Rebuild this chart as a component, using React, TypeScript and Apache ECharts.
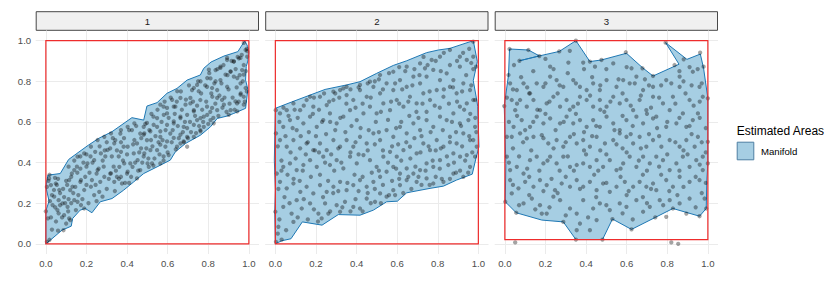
import React, { useEffect, useRef } from "react";
import * as echarts from "echarts";

const TICKS = [0, 0.2, 0.4, 0.6, 0.8, 1.0];
const PANEL_LABELS = ["1", "2", "3"];
const LEGEND_TITLE = "Estimated Areas";
const LEGEND_LABEL = "Manifold";

// red reference rectangles [x0, y0, x1, y1]
const RECT1 = [0, 0, 1, 1];
const RECT2 = [0, 0, 1, 1];
const RECT3 = [0, 0.021, 1, 1];

const HULL1: number[][] = [
  [0, 0], [0, 0.163], [0.016, 0.21], [0, 0.28], [0.01, 0.338], [0.071, 0.346], [0.112, 0.415], [0.153, 0.445],
  [0.21, 0.486], [0.26, 0.519], [0.326, 0.552], [0.424, 0.621], [0.482, 0.609], [0.498, 0.678], [0.548, 0.695],
  [0.597, 0.741], [0.646, 0.765], [0.696, 0.806], [0.761, 0.831], [0.778, 0.864], [0.814, 0.895], [0.877, 0.924],
  [0.946, 0.946], [0.98, 1.0], [0.995, 0.97], [1.0, 0.94], [0.995, 0.9], [0.987, 0.872], [0.984, 0.806],
  [0.995, 0.76], [0.984, 0.667], [0.926, 0.642], [0.893, 0.629], [0.844, 0.617], [0.811, 0.576], [0.762, 0.535],
  [0.688, 0.494], [0.638, 0.453], [0.613, 0.412], [0.548, 0.379], [0.482, 0.346], [0.433, 0.305], [0.383, 0.264],
  [0.326, 0.223], [0.268, 0.207], [0.227, 0.153], [0.194, 0.174], [0.169, 0.166], [0.132, 0.125], [0.125, 0.087],
  [0.079, 0.067], [0.03, 0.025],
];

const HULL2: number[][] = [
  [0, 0], [0.031, 0.015], [0.077, 0.025], [0.133, 0.108], [0.23, 0.092], [0.31, 0.144], [0.417, 0.141],
  [0.483, 0.166], [0.548, 0.207], [0.601, 0.21], [0.647, 0.251], [0.672, 0.256], [0.762, 0.273], [0.828, 0.284],
  [0.893, 0.314], [0.97, 0.343], [0.988, 0.42], [1.003, 0.478], [0.997, 0.675], [0.992, 0.708], [0.975, 0.803],
  [0.995, 0.897], [0.975, 1.0], [0.86, 0.962], [0.803, 0.954], [0.745, 0.941], [0.647, 0.901], [0.581, 0.878],
  [0.499, 0.839], [0.417, 0.798], [0.351, 0.782], [0.245, 0.76], [0.08, 0.698], [0, 0.667], [-0.005, 0.412],
  [0, 0.264], [-0.003, 0.158],
];

const HULL3: number[][] = [
  [0.023, 0.959], [0.116, 0.954], [0.17, 0.925], [0.072, 0.901], [0.17, 0.925], [0.268, 0.947], [0.35, 1.0],
  [0.419, 0.897], [0.476, 0.905], [0.599, 0.938], [0.678, 0.867], [0.73, 0.826], [0.858, 0.884], [0.792, 0.99],
  [0.897, 0.908], [0.963, 0.934], [0.979, 0.864], [1.0, 0.716], [1.0, 0.552], [1.0, 0.396], [0.995, 0.314],
  [0.992, 0.174], [0.959, 0.136], [0.828, 0.174], [0.741, 0.13], [0.624, 0.071], [0.53, 0.122], [0.481, 0.021],
  [0.35, 0.021], [0.288, 0.108], [0.182, 0.117], [0.056, 0.153], [0.002, 0.207], [0.005, 0.396], [-0.003, 0.678],
  [0.018, 0.831],
];

const POINTS1: number[][] = [
  [0.005, 0.01], [0.018, 0.02], [0, 0.16], [0.01, 0.125], [0.02, 0.21], [0.005, 0.28], [0.013, 0.31], [0.018, 0.34],
  [0.04, 0.265], [0.054, 0.29], [0.07, 0.25], [0.063, 0.215], [0.046, 0.18], [0.063, 0.15], [0.08, 0.13], [0.087, 0.067],
  [0.1, 0.1], [0.12, 0.117], [0.095, 0.2], [0.112, 0.22], [0.12, 0.264], [0.1, 0.31], [0.112, 0.38], [0.128, 0.346],
  [0.153, 0.38], [0.17, 0.43], [0.145, 0.28], [0.17, 0.305], [0.194, 0.33], [0.2, 0.38], [0.22, 0.43], [0.243, 0.453],
  [0.227, 0.314], [0.25, 0.346], [0.268, 0.305], [0.285, 0.38], [0.293, 0.43], [0.317, 0.47], [0.342, 0.51], [0.367, 0.543],
  [0.383, 0.478], [0.359, 0.43], [0.334, 0.38], [0.317, 0.346], [0.35, 0.33], [0.375, 0.297], [0.4, 0.346], [0.416, 0.396],
  [0.433, 0.445], [0.449, 0.494], [0.465, 0.543], [0.424, 0.56], [0.482, 0.576], [0.498, 0.51], [0.515, 0.461], [0.523, 0.396],
  [0.482, 0.43], [0.465, 0.363], [0.449, 0.322], [0.53, 0.626], [0.548, 0.576], [0.564, 0.526], [0.589, 0.478], [0.605, 0.437],
  [0.58, 0.43], [0.613, 0.543], [0.63, 0.593], [0.597, 0.642], [0.58, 0.675], [0.638, 0.675], [0.663, 0.626], [0.679, 0.576],
  [0.696, 0.526], [0.663, 0.494], [0.712, 0.691], [0.729, 0.658], [0.745, 0.609], [0.761, 0.56], [0.778, 0.626], [0.794, 0.675],
  [0.761, 0.708], [0.72, 0.757], [0.745, 0.782], [0.794, 0.773], [0.811, 0.814], [0.836, 0.855], [0.86, 0.872], [0.893, 0.905],
  [0.926, 0.897], [0.951, 0.913], [0.984, 0.954], [0.992, 0.921], [0.967, 0.855], [0.959, 0.79], [0.975, 0.724], [0.942, 0.691],
  [0.91, 0.658], [0.868, 0.708], [0.844, 0.757], [0.893, 0.773], [0.926, 0.823], [0.91, 0.847], [0.86, 0.806], [0.82, 0.724],
  [0.844, 0.658], [0.811, 0.609], [0.827, 0.593], [0.778, 0.576], [0.729, 0.526], [0.696, 0.478], [0.646, 0.478], [0.548, 0.461],
  [0.507, 0.379], [0.564, 0.396],
  [0.016, 0.322], [0.025, 0.289], [0.049, 0.297], [0.066, 0.265], [0.041, 0.232], [0.033, 0.191], [0.057, 0.166], [0.082, 0.199],
  [0.107, 0.182], [0.09, 0.141], [0.115, 0.125], [0.14, 0.215], [0.156, 0.207], [0.148, 0.166], [0.173, 0.191], [0.189, 0.174],
  [0.115, 0.314], [0.131, 0.281], [0.14, 0.363], [0.173, 0.314], [0.189, 0.265], [0.222, 0.281], [0.238, 0.24], [0.263, 0.256],
  [0.279, 0.232], [0.205, 0.396], [0.238, 0.412], [0.271, 0.445], [0.255, 0.363], [0.288, 0.33], [0.321, 0.347], [0.337, 0.305],
  [0.37, 0.33], [0.362, 0.379], [0.386, 0.396], [0.403, 0.355], [0.427, 0.379], [0.452, 0.412], [0.485, 0.445], [0.501, 0.396],
  [0.469, 0.47], [0.436, 0.511], [0.403, 0.478], [0.37, 0.453], [0.337, 0.495], [0.304, 0.462], [0.321, 0.544], [0.37, 0.56],
  [0.403, 0.576], [0.436, 0.593], [0.485, 0.544], [0.518, 0.511], [0.222, 0.478], [0.189, 0.445], [0.156, 0.429], [0.255, 0.511],
  [0.288, 0.527],
  [0.975, 0.989], [0.992, 0.948], [0.959, 0.915], [0.926, 0.898], [0.893, 0.915], [0.86, 0.866], [0.885, 0.833], [0.91, 0.849],
  [0.943, 0.816], [0.975, 0.833], [0.984, 0.767], [0.959, 0.734], [0.934, 0.701], [0.975, 0.685], [0.943, 0.652], [0.901, 0.635],
  [0.877, 0.685], [0.844, 0.718], [0.819, 0.767], [0.795, 0.816], [0.836, 0.8], [0.803, 0.857], [0.762, 0.8], [0.753, 0.751],
  [0.729, 0.767], [0.712, 0.718], [0.688, 0.685], [0.663, 0.718], [0.647, 0.751], [0.622, 0.709], [0.63, 0.675], [0.597, 0.669],
  [0.564, 0.685], [0.581, 0.635], [0.548, 0.619], [0.531, 0.586], [0.498, 0.595], [0.515, 0.554], [0.482, 0.537], [0.564, 0.554],
  [0.597, 0.586], [0.63, 0.603], [0.663, 0.619], [0.696, 0.635], [0.729, 0.652], [0.762, 0.619], [0.795, 0.635], [0.819, 0.669],
  [0.729, 0.586], [0.696, 0.57], [0.663, 0.537], [0.63, 0.521], [0.597, 0.504], [0.564, 0.488], [0.762, 0.554], [0.679, 0.504],
];

const POINTS1B: number[][] = [
  [0.03, 0.07], [0.05, 0.11], [0.07, 0.19], [0.03, 0.24], [0.085, 0.27], [0.06, 0.32], [0.09, 0.23], [0.11, 0.16],
  [0.125, 0.2], [0.135, 0.25], [0.105, 0.29], [0.125, 0.33], [0.155, 0.35], [0.16, 0.24], [0.18, 0.22], [0.2, 0.29],
  [0.21, 0.2], [0.215, 0.35], [0.23, 0.4], [0.185, 0.4], [0.17, 0.37], [0.245, 0.29], [0.26, 0.37], [0.265, 0.48],
  [0.28, 0.41], [0.3, 0.27], [0.31, 0.32], [0.3, 0.5], [0.325, 0.43], [0.34, 0.26], [0.345, 0.36], [0.35, 0.46],
  [0.36, 0.32], [0.38, 0.41], [0.385, 0.52], [0.39, 0.3], [0.4, 0.44], [0.41, 0.56], [0.42, 0.33], [0.43, 0.49],
  [0.44, 0.4], [0.445, 0.58], [0.455, 0.36], [0.46, 0.45], [0.47, 0.52], [0.475, 0.4], [0.49, 0.59], [0.495, 0.47],
  [0.505, 0.42], [0.51, 0.56], [0.52, 0.64], [0.525, 0.48], [0.535, 0.42], [0.54, 0.53], [0.55, 0.66], [0.555, 0.5],
  [0.56, 0.44], [0.57, 0.6], [0.575, 0.51], [0.585, 0.7], [0.59, 0.56], [0.6, 0.45], [0.605, 0.62], [0.615, 0.72],
  [0.62, 0.5], [0.625, 0.56], [0.635, 0.64], [0.64, 0.465], [0.645, 0.7], [0.65, 0.58], [0.655, 0.52], [0.665, 0.75],
  [0.67, 0.66], [0.675, 0.55], [0.685, 0.6], [0.69, 0.71], [0.7, 0.52], [0.705, 0.78], [0.71, 0.6], [0.715, 0.55],
  [0.725, 0.7], [0.735, 0.63], [0.74, 0.545], [0.745, 0.68], [0.75, 0.8], [0.755, 0.58], [0.765, 0.74], [0.77, 0.66],
  [0.775, 0.6], [0.785, 0.78], [0.79, 0.7], [0.8, 0.59], [0.805, 0.84], [0.81, 0.65], [0.815, 0.74], [0.825, 0.62],
  [0.83, 0.79], [0.835, 0.69], [0.845, 0.86], [0.85, 0.63], [0.855, 0.73], [0.865, 0.79], [0.87, 0.67], [0.875, 0.88],
  [0.88, 0.72], [0.89, 0.65], [0.895, 0.83], [0.9, 0.76], [0.905, 0.69], [0.915, 0.9], [0.92, 0.72], [0.93, 0.66],
  [0.935, 0.86], [0.94, 0.77], [0.945, 0.92], [0.95, 0.7], [0.955, 0.83], [0.96, 0.74], [0.965, 0.93], [0.97, 0.8],
  [0.975, 0.88], [0.98, 0.7], [0.985, 0.85], [0.99, 0.75], [0.99, 0.96], [0.06, 0.065], [0.025, 0.13], [0.045, 0.325],
  [0.14, 0.41], [0.2, 0.44], [0.25, 0.21], [0.29, 0.46], [0.33, 0.52], [0.37, 0.5], [0.41, 0.3], [0.53, 0.385],
  [0.58, 0.41], [0.68, 0.5],
];

const POINTS2: number[][] = [
  [0.003, 0.01], [0.031, 0.021], [0.053, 0.067], [0.015, 0.084], [0.089, 0.108], [0, 0.158], [0.039, 0.182], [0.08, 0.149],
  [0.105, 0.215], [0.13, 0.174], [0.171, 0.199], [0.212, 0.149], [0.228, 0.125], [0.245, 0.199], [0.261, 0.149], [0.302, 0.19],
  [0.319, 0.158], [0.343, 0.207], [0.384, 0.182], [0.417, 0.174], [0.45, 0.223], [0.491, 0.207], [0.516, 0.248], [0.548, 0.232],
  [0.581, 0.264], [0.614, 0.289], [0.647, 0.314], [0.696, 0.305], [0.745, 0.322], [0.778, 0.297], [0.828, 0.305], [0.877, 0.346],
  [0.926, 0.33], [0.959, 0.379], [0.984, 0.429], [0.943, 0.437], [0.91, 0.429], [0.877, 0.445], [0.852, 0.388], [0.811, 0.412],
  [0.778, 0.379], [0.745, 0.396], [0.713, 0.363], [0.68, 0.346], [0.647, 0.371], [0.614, 0.346], [0.581, 0.379], [0.548, 0.355],
  [0.516, 0.33], [0.483, 0.305], [0.45, 0.281], [0.417, 0.314], [0.384, 0.289], [0.351, 0.264], [0.319, 0.305], [0.286, 0.281],
  [0.253, 0.256], [0.22, 0.289], [0.187, 0.248], [0.154, 0.281], [0.123, 0.256], [0.089, 0.297], [0.056, 0.273], [0.023, 0.305],
  [0.007, 0.346], [0.039, 0.379], [0.072, 0.396], [0.105, 0.363], [0.138, 0.388], [0.171, 0.412], [0.204, 0.379], [0.236, 0.429],
  [0.269, 0.388], [0.302, 0.412], [0.335, 0.371], [0.368, 0.429], [0.401, 0.396], [0.434, 0.437], [0.466, 0.412], [0.499, 0.379],
  [0.532, 0.429], [0.565, 0.453], [0.598, 0.429], [0.631, 0.461], [0.663, 0.478], [0.696, 0.445], [0.729, 0.494], [0.762, 0.461],
  [0.795, 0.511], [0.828, 0.478], [0.86, 0.527], [0.893, 0.494], [0.926, 0.544], [0.959, 0.511], [0.984, 0.576], [0.951, 0.609],
  [0.909, 0.593], [0.877, 0.642], [0.844, 0.609], [0.811, 0.626], [0.778, 0.576], [0.745, 0.609], [0.713, 0.56], [0.68, 0.593],
  [0.647, 0.544], [0.614, 0.576], [0.581, 0.527], [0.548, 0.56], [0.516, 0.511], [0.483, 0.544], [0.45, 0.494], [0.417, 0.527],
  [0.384, 0.478], [0.351, 0.511], [0.319, 0.478], [0.286, 0.511], [0.253, 0.461], [0.22, 0.494], [0.187, 0.461], [0.154, 0.494],
  [0.122, 0.47], [0.089, 0.511], [0.056, 0.478], [0.023, 0.511], [0.003, 0.544], [0.039, 0.576], [0.072, 0.609], [0.105, 0.56],
  [0.138, 0.593], [0.171, 0.626], [0.204, 0.576], [0.236, 0.609], [0.269, 0.642], [0.302, 0.593], [0.335, 0.626], [0.368, 0.658],
  [0.401, 0.609], [0.434, 0.642], [0.466, 0.675], [0.499, 0.642], [0.532, 0.691], [0.565, 0.658], [0.598, 0.708], [0.631, 0.675],
  [0.663, 0.724], [0.696, 0.691], [0.729, 0.741], [0.762, 0.708], [0.795, 0.757], [0.828, 0.724], [0.86, 0.773], [0.893, 0.741],
  [0.926, 0.79], [0.959, 0.757], [0.975, 0.708], [0.943, 0.691], [0.909, 0.675], [0.877, 0.806], [0.844, 0.839], [0.811, 0.806],
  [0.778, 0.856], [0.745, 0.823], [0.737, 0.864], [0.713, 0.79], [0.68, 0.823], [0.647, 0.773], [0.614, 0.806], [0.581, 0.757],
  [0.548, 0.79], [0.516, 0.741], [0.483, 0.773], [0.45, 0.724], [0.417, 0.757], [0.384, 0.708], [0.351, 0.732], [0.319, 0.757],
  [0.286, 0.708], [0.253, 0.683], [0.22, 0.724], [0.187, 0.675], [0.154, 0.708], [0.122, 0.658], [0.089, 0.691], [0.056, 0.658],
  [0.023, 0.642], [0.002, 0.658], [0.909, 0.872], [0.943, 0.905], [0.975, 0.921], [0.909, 0.921], [0.86, 0.954], [0.811, 0.921],
  [0.77, 0.905], [0.713, 0.888], [0.647, 0.872], [0.581, 0.847], [0.516, 0.831], [0.466, 0.798], [0.417, 0.782], [0.351, 0.773],
  [0.286, 0.749], [0.171, 0.724], [0.975, 0.511], [0.992, 0.478], [0.984, 0.708], [0.989, 0.872], [0.975, 0.995],
];

const POINTS2B: number[][] = [
  [0.012, 0.05], [0.02, 0.12], [0.045, 0.23], [0.015, 0.27], [0.06, 0.34], [0.03, 0.41], [0.075, 0.45], [0.012, 0.48],
  [0.05, 0.53], [0.085, 0.57], [0.02, 0.6], [0.065, 0.63], [0.04, 0.67], [0.095, 0.66], [0.07, 0.2], [0.09, 0.32],
  [0.1, 0.42], [0.03, 0.36], [0.11, 0.13], [0.16, 0.12], [0.14, 0.22], [0.19, 0.17], [0.12, 0.31], [0.175, 0.33],
  [0.15, 0.44], [0.195, 0.46], [0.125, 0.53], [0.165, 0.55], [0.11, 0.62], [0.185, 0.64], [0.14, 0.68], [0.19, 0.72],
  [0.16, 0.5], [0.2, 0.53], [0.135, 0.36], [0.21, 0.11], [0.27, 0.16], [0.235, 0.23], [0.285, 0.25], [0.22, 0.34],
  [0.26, 0.31], [0.29, 0.36], [0.245, 0.4], [0.215, 0.45], [0.275, 0.44], [0.25, 0.54], [0.295, 0.56], [0.23, 0.6],
  [0.27, 0.6], [0.215, 0.66], [0.265, 0.7], [0.295, 0.74], [0.24, 0.74], [0.33, 0.18], [0.37, 0.16], [0.395, 0.22],
  [0.31, 0.26], [0.355, 0.3], [0.39, 0.34], [0.325, 0.4], [0.37, 0.45], [0.31, 0.47], [0.345, 0.55], [0.395, 0.5],
  [0.32, 0.62], [0.375, 0.58], [0.35, 0.69], [0.395, 0.67], [0.315, 0.72], [0.37, 0.76], [0.335, 0.765], [0.43, 0.16],
  [0.47, 0.2], [0.41, 0.26], [0.455, 0.25], [0.49, 0.27], [0.43, 0.33], [0.475, 0.35], [0.41, 0.44], [0.455, 0.46],
  [0.49, 0.49], [0.42, 0.57], [0.46, 0.56], [0.495, 0.6], [0.43, 0.69], [0.47, 0.72], [0.41, 0.77], [0.455, 0.79],
  [0.49, 0.8], [0.52, 0.2], [0.56, 0.24], [0.59, 0.24], [0.53, 0.29], [0.575, 0.31], [0.51, 0.36], [0.555, 0.4],
  [0.595, 0.37], [0.53, 0.46], [0.575, 0.48], [0.51, 0.55], [0.555, 0.61], [0.595, 0.57], [0.52, 0.65], [0.57, 0.7],
  [0.53, 0.76], [0.59, 0.79], [0.56, 0.84], [0.51, 0.81], [0.63, 0.25], [0.67, 0.27], [0.61, 0.32], [0.655, 0.33],
  [0.69, 0.38], [0.62, 0.41], [0.665, 0.42], [0.605, 0.49], [0.645, 0.5], [0.685, 0.52], [0.62, 0.6], [0.66, 0.63],
  [0.695, 0.65], [0.61, 0.69], [0.655, 0.7], [0.625, 0.76], [0.675, 0.78], [0.64, 0.85], [0.685, 0.86], [0.61, 0.87],
  [0.72, 0.29], [0.76, 0.29], [0.79, 0.33], [0.705, 0.33], [0.74, 0.36], [0.775, 0.41], [0.715, 0.45], [0.755, 0.48],
  [0.79, 0.46], [0.72, 0.53], [0.765, 0.55], [0.705, 0.62], [0.745, 0.65], [0.785, 0.68], [0.725, 0.69], [0.76, 0.75],
  [0.71, 0.83], [0.75, 0.88], [0.79, 0.9], [0.73, 0.92], [0.82, 0.32], [0.86, 0.32], [0.89, 0.35], [0.81, 0.37],
  [0.845, 0.43], [0.88, 0.4], [0.815, 0.47], [0.86, 0.5], [0.89, 0.55], [0.825, 0.56], [0.87, 0.6], [0.81, 0.67],
  [0.855, 0.69], [0.895, 0.7], [0.83, 0.76], [0.875, 0.77], [0.815, 0.85], [0.86, 0.88], [0.895, 0.9], [0.83, 0.94],
  [0.91, 0.36], [0.95, 0.35], [0.935, 0.41], [0.97, 0.45], [0.92, 0.48], [0.955, 0.53], [0.99, 0.55], [0.915, 0.58],
  [0.96, 0.64], [0.985, 0.62], [0.93, 0.66], [0.92, 0.75], [0.965, 0.78], [0.94, 0.83], [0.975, 0.86], [0.925, 0.94],
  [0.955, 0.96], [0.965, 0.89],
];

const POINTS3: number[][] = [
  [0.023, 0.959], [0.116, 0.954], [0.17, 0.924], [0.268, 0.947], [0.35, 1.0], [0.072, 0.901], [0.018, 0.831], [-0.003, 0.678],
  [0.002, 0.207], [0.056, 0.153], [0.182, 0.149], [0.288, 0.108], [0.35, 0.021], [0.481, 0.021], [0.53, 0.122], [0.624, 0.071],
  [0.741, 0.13], [0.828, 0.174], [0.959, 0.136], [0.992, 0.174], [1.0, 0.396], [1.0, 0.502], [1.0, 0.716], [0.979, 0.872],
  [0.962, 0.941], [0.881, 0.908], [0.792, 0.99], [0.836, 0.88], [0.73, 0.826], [0.678, 0.864], [0.596, 0.943], [0.476, 0.905],
  [0.419, 0.897], [0.051, 0.007], [0.82, 0.007], [0.854, 0.0],
  [0.223, 0.872], [0.313, 0.892], [0.386, 0.892], [0.444, 0.872], [0.534, 0.888], [0.624, 0.864], [0.648, 0.823], [0.73, 0.773],
  [0.795, 0.806], [0.861, 0.823], [0.926, 0.847], [0.959, 0.773], [0.975, 0.724], [0.951, 0.642], [0.91, 0.708], [0.861, 0.773],
  [0.828, 0.724], [0.779, 0.691], [0.746, 0.626], [0.73, 0.724], [0.681, 0.757], [0.664, 0.708], [0.615, 0.79], [0.583, 0.806],
  [0.55, 0.773], [0.501, 0.806], [0.468, 0.757], [0.435, 0.79], [0.403, 0.757], [0.37, 0.773], [0.337, 0.806], [0.288, 0.773],
  [0.255, 0.806], [0.223, 0.823], [0.19, 0.773], [0.157, 0.79], [0.124, 0.741], [0.092, 0.79], [0.059, 0.757], [0.026, 0.79],
  [0.034, 0.708], [0.051, 0.658], [0.075, 0.708], [0.108, 0.675], [0.141, 0.708], [0.173, 0.658], [0.206, 0.691], [0.239, 0.724],
  [0.272, 0.675], [0.304, 0.708], [0.337, 0.675], [0.37, 0.724], [0.403, 0.708], [0.435, 0.675], [0.468, 0.708], [0.501, 0.675],
  [0.534, 0.724], [0.566, 0.691], [0.599, 0.708], [0.632, 0.658], [0.697, 0.658], [0.812, 0.658], [0.877, 0.642], [0.926, 0.609],
  [0.894, 0.576], [0.845, 0.593], [0.795, 0.576], [0.73, 0.617], [0.681, 0.593], [0.648, 0.626], [0.599, 0.609], [0.566, 0.56],
  [0.534, 0.593], [0.501, 0.626], [0.468, 0.576], [0.435, 0.609], [0.403, 0.576], [0.37, 0.609], [0.337, 0.593], [0.304, 0.626],
  [0.272, 0.593], [0.223, 0.617], [0.19, 0.593], [0.157, 0.626], [0.124, 0.576], [0.083, 0.609], [0.043, 0.576], [0.01, 0.527],
  [0.034, 0.527], [0.075, 0.544], [0.108, 0.519], [0.141, 0.527], [0.182, 0.535], [0.214, 0.494], [0.255, 0.511], [0.288, 0.478],
  [0.321, 0.527], [0.354, 0.494], [0.386, 0.511], [0.419, 0.478], [0.452, 0.527], [0.493, 0.494], [0.534, 0.511], [0.566, 0.544],
  [0.599, 0.527], [0.632, 0.494], [0.664, 0.527], [0.697, 0.478], [0.73, 0.511], [0.771, 0.478], [0.812, 0.511], [0.861, 0.478],
  [0.894, 0.511], [0.935, 0.478], [0.951, 0.527], [0.975, 0.429], [0.943, 0.412], [0.91, 0.379], [0.877, 0.429], [0.845, 0.396],
  [0.812, 0.363], [0.779, 0.412], [0.746, 0.429], [0.714, 0.396], [0.681, 0.429], [0.648, 0.379], [0.615, 0.429], [0.583, 0.396],
  [0.55, 0.363], [0.517, 0.412], [0.484, 0.379], [0.452, 0.412], [0.419, 0.379], [0.386, 0.396], [0.354, 0.388], [0.321, 0.379],
  [0.288, 0.429], [0.255, 0.396], [0.223, 0.429], [0.19, 0.396], [0.157, 0.429], [0.124, 0.412], [0.092, 0.346], [0.059, 0.379],
  [0.026, 0.363], [0.01, 0.429], [0.026, 0.314], [0.067, 0.273], [0.1, 0.305], [0.141, 0.281], [0.173, 0.314], [0.206, 0.289],
  [0.247, 0.264], [0.28, 0.297], [0.321, 0.281], [0.354, 0.314], [0.386, 0.281], [0.419, 0.305], [0.452, 0.264], [0.484, 0.297],
  [0.517, 0.256], [0.55, 0.281], [0.591, 0.305], [0.632, 0.281], [0.664, 0.305], [0.697, 0.281], [0.73, 0.297], [0.746, 0.264],
  [0.795, 0.314], [0.828, 0.281], [0.861, 0.33], [0.91, 0.305], [0.959, 0.314], [0.975, 0.363], [0.984, 0.223], [0.91, 0.223],
  [0.861, 0.199], [0.812, 0.215], [0.763, 0.215], [0.714, 0.182], [0.681, 0.158], [0.648, 0.215], [0.599, 0.182], [0.566, 0.199],
  [0.517, 0.166], [0.468, 0.199], [0.435, 0.174], [0.386, 0.215], [0.354, 0.149], [0.321, 0.174], [0.272, 0.215], [0.239, 0.232],
  [0.206, 0.149], [0.173, 0.19], [0.133, 0.223], [0.092, 0.199], [0.034, 0.248], [0.354, 0.067], [0.37, 0.1], [0.452, 0.117],
  [0.419, 0.067], [0.795, 0.133], [0.894, 0.149],
];

const POINTS3B: number[][] = [
  [0.07, 0.19], [0.15, 0.17], [0.22, 0.18], [0.3, 0.14], [0.41, 0.13], [0.5, 0.19], [0.58, 0.15], [0.63, 0.12],
  [0.7, 0.2], [0.78, 0.19], [0.85, 0.24], [0.94, 0.18], [0.12, 0.24], [0.26, 0.25], [0.45, 0.23], [0.6, 0.24],
  [0.68, 0.23], [0.97, 0.25], [0.04, 0.29], [0.12, 0.33], [0.19, 0.26], [0.23, 0.32], [0.3, 0.33], [0.37, 0.27],
  [0.44, 0.34], [0.5, 0.3], [0.57, 0.33], [0.61, 0.26], [0.68, 0.34], [0.72, 0.27], [0.77, 0.34], [0.81, 0.26],
  [0.88, 0.28], [0.94, 0.33], [0.99, 0.3], [0.02, 0.4], [0.07, 0.43], [0.11, 0.37], [0.17, 0.36], [0.21, 0.41],
  [0.27, 0.36], [0.31, 0.43], [0.34, 0.36], [0.4, 0.44], [0.46, 0.36], [0.5, 0.44], [0.57, 0.37], [0.6, 0.45],
  [0.66, 0.41], [0.7, 0.36], [0.76, 0.38], [0.8, 0.44], [0.86, 0.36], [0.9, 0.44], [0.96, 0.39], [0.99, 0.45],
  [0.04, 0.47], [0.09, 0.5], [0.13, 0.46], [0.19, 0.52], [0.24, 0.47], [0.3, 0.5], [0.34, 0.54], [0.39, 0.46],
  [0.43, 0.53], [0.47, 0.46], [0.55, 0.49], [0.58, 0.47], [0.62, 0.54], [0.67, 0.47], [0.71, 0.54], [0.76, 0.53],
  [0.84, 0.5], [0.88, 0.46], [0.92, 0.54], [0.97, 0.5], [0.02, 0.6], [0.06, 0.63], [0.1, 0.56], [0.14, 0.6],
  [0.2, 0.64], [0.25, 0.56], [0.29, 0.6], [0.35, 0.64], [0.39, 0.55], [0.45, 0.58], [0.49, 0.65], [0.54, 0.56],
  [0.58, 0.63], [0.63, 0.58], [0.7, 0.64], [0.75, 0.57], [0.8, 0.6], [0.86, 0.62], [0.91, 0.58], [0.96, 0.62],
  [0.99, 0.57], [0.01, 0.72], [0.06, 0.69], [0.12, 0.74], [0.16, 0.66], [0.22, 0.7], [0.26, 0.74], [0.32, 0.66],
  [0.36, 0.69], [0.42, 0.73], [0.47, 0.66], [0.52, 0.7], [0.58, 0.74], [0.62, 0.68], [0.67, 0.73], [0.72, 0.67],
  [0.76, 0.72], [0.84, 0.69], [0.89, 0.74], [0.93, 0.68], [0.96, 0.7], [0.04, 0.76], [0.08, 0.82], [0.11, 0.77],
  [0.14, 0.85], [0.2, 0.79], [0.24, 0.86], [0.27, 0.78], [0.31, 0.84], [0.35, 0.79], [0.39, 0.86], [0.43, 0.82],
  [0.47, 0.78], [0.5, 0.86], [0.56, 0.81], [0.6, 0.87], [0.64, 0.79], [0.69, 0.81], [0.71, 0.78], [0.77, 0.78],
  [0.82, 0.79], [0.88, 0.8], [0.92, 0.78], [0.95, 0.86], [0.91, 0.87], [0.86, 0.85], [0.045, 0.88], [0.2, 0.91],
  [0.32, 0.95], [0.97, 0.79],
];

const FONT = "'Liberation Sans', Arial, Helvetica, sans-serif";
const GRID_LEFTS = [35.7, 265.2, 494.7];
const GRID_W = 223.3;
const GRID_TOP = 30.5;
const GRID_H = 223.5;

export default function App() {
  const ref = useRef<HTMLDivElement>(null);

  useEffect(() => {
    if (!ref.current) return;
    const chart = echarts.init(ref.current, undefined, { renderer: "svg" });
    const hulls = [HULL1, HULL2, HULL3];
    const rects = [RECT1, RECT2, RECT3];
    const points = [
      [...POINTS1, ...POINTS1B],
      [...POINTS2, ...POINTS2B],
      [...POINTS3, ...POINTS3B],
    ];

    const grids = GRID_LEFTS.map((l) => ({ left: l, top: GRID_TOP, width: GRID_W, height: GRID_H }));
    const axisCommon = {
      type: "value" as const,
      min: -0.05,
      max: 1.05,
      axisLine: { show: false },
      axisTick: { show: false, customValues: TICKS },
      splitLine: { show: true, lineStyle: { color: "#EBEBEB", width: 1 } },
    };
    const xAxes = [0, 1, 2].map((i) => ({
      ...axisCommon,
      gridIndex: i,
      axisLabel: {
        customValues: TICKS,
        formatter: (v: number) => v.toFixed(1),
        color: "#4D4D4D",
        fontSize: 9.6,
        fontFamily: FONT,
        margin: 4,
      },
    }));
    const yAxes = [0, 1, 2].map((i) => ({
      ...axisCommon,
      gridIndex: i,
      axisLabel: {
        show: i === 0,
        customValues: TICKS,
        formatter: (v: number) => v.toFixed(1),
        color: "#4D4D4D",
        fontSize: 9.6,
        fontFamily: FONT,
        margin: 4.5,
      },
    }));

    const series: any[] = [];
    for (let i = 0; i < 3; i++) {
      const hull = hulls[i];
      series.push({
        type: "custom",
        xAxisIndex: i,
        yAxisIndex: i,
        z: 2,
        clip: false,
        data: hull,
        renderItem: (params: any, api: any) => {
          if (params.dataIndex !== 0) return null;
          const pts = hull.map((p) => api.coord(p));
          return {
            type: "polygon",
            shape: { points: pts },
            style: { fill: "#A6CEE3", stroke: "#1F78B4", lineWidth: 1 },
          };
        },
      });
      series.push({
        type: "custom",
        xAxisIndex: i,
        yAxisIndex: i,
        z: 4,
        clip: false,
        data: [rects[i]],
        renderItem: (params: any, api: any) => {
          const p0 = api.coord([api.value(0), api.value(1)]);
          const p1 = api.coord([api.value(2), api.value(3)]);
          return {
            type: "rect",
            shape: { x: p0[0], y: p1[1], width: p1[0] - p0[0], height: p0[1] - p1[1] },
            style: { fill: "none", stroke: "#EE2C2C", lineWidth: 1.2 },
          };
        },
      });
      series.push({
        type: "scatter",
        xAxisIndex: i,
        yAxisIndex: i,
        z: 3,
        clip: false,
        symbolSize: 4.3,
        itemStyle: { color: "rgba(0,0,0,0.45)" },
        data: points[i],
      });
    }

    const graphics: any[] = [];
    GRID_LEFTS.forEach((l, i) => {
      graphics.push({
        type: "rect",
        shape: { x: l + 0.5, y: 11.7, width: GRID_W - 1, height: 18.6 },
        style: { fill: "#F0F0F0", stroke: "#333333", lineWidth: 0.9 },
        silent: true,
      });
      graphics.push({
        type: "text",
        x: l + GRID_W / 2,
        y: 21,
        style: {
          text: PANEL_LABELS[i],
          fill: "#1A1A1A",
          font: `9.6px ${FONT}`,
          textAlign: "center",
          textVerticalAlign: "middle",
        },
        silent: true,
      });
    });
    graphics.push({
      type: "text",
      x: 736.7,
      y: 131,
      style: { text: LEGEND_TITLE, fill: "#000000", font: `12px ${FONT}`, textAlign: "left", textVerticalAlign: "middle" },
    });
    graphics.push({
      type: "rect",
      shape: { x: 737.2, y: 142.2, width: 16.6, height: 17.6 },
      style: { fill: "#A6CEE3", stroke: "#4E7FA3", lineWidth: 1 },
    });
    graphics.push({
      type: "text",
      x: 761,
      y: 151.5,
      style: { text: LEGEND_LABEL, fill: "#000000", font: `9.6px ${FONT}`, textAlign: "left", textVerticalAlign: "middle" },
    });

    chart.setOption({
      animation: false,
      backgroundColor: "#FFFFFF",
      grid: grids,
      xAxis: xAxes,
      yAxis: yAxes,
      series,
      graphic: graphics,
    });
    return () => chart.dispose();
  }, []);

  return (
    <div
      ref={ref}
      style={{ position: "fixed", left: 0, top: 0, width: 830, height: 284 }}
    />
  );
}
